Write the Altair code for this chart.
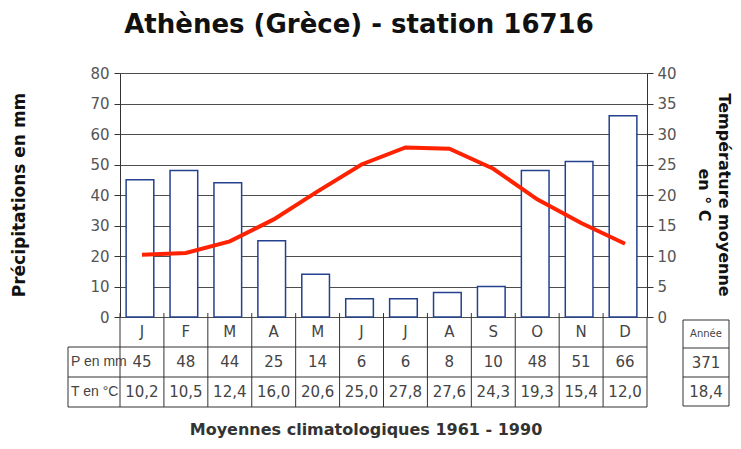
import altair as alt
import pandas as pd

# ---- data ----
mois = ["Janvier", "Février", "Mars", "Avril", "Mai", "Juin",
        "Juillet", "Août", "Septembre", "Octobre", "Novembre", "Décembre"]
initiales = ["J", "F", "M", "A", "M", "J", "J", "A", "S", "O", "N", "D"]
precip = [45, 48, 44, 25, 14, 6, 6, 8, 10, 48, 51, 66]
temp = [10.2, 10.5, 12.4, 16.0, 20.6, 25.0, 27.8, 27.6, 24.3, 19.3, 15.4, 12.0]
annee_p = 371
annee_t = 18.4
p_ticks = list(range(0, 81, 10))
t_ticks = list(range(0, 41, 5))

titre = "Athènes (Grèce) - station 16716"
titre_g = "Précipitations en mm"
titre_d1 = "Température moyenne"
titre_d2 = "en ° C"
pied = "Moyennes climatologiques 1961 - 1990"
ligne_p = "P en mm"
ligne_t = "T en °C"
annee_lbl = "Année"

def fr(v):
    return f"{v:.1f}".replace(".", ",")

df = pd.DataFrame({
    "mois": mois, "init": initiales, "precip": precip, "temp": temp,
    "p_txt": [str(p) for p in precip],
    "t_txt": [fr(t) for t in temp],
})
one = pd.DataFrame({"k": [0]})

W, H = 527, 244
FONT = "DejaVu Sans"
LINE = "#333333"
TXT = "#444444"

xscale = alt.Scale(paddingInner=0, paddingOuter=0)
xenc = alt.X("mois:N", sort=mois, scale=xscale, axis=None)

bars = alt.Chart(df).mark_bar(
    width=alt.RelativeBandSize(0.63), xOffset=-2,
    fill="white", stroke="#24418f", strokeWidth=1.5
).encode(
    x=xenc,
    y=alt.Y("precip:Q", scale=alt.Scale(domain=[0, 80], nice=False),
            axis=alt.Axis(values=p_ticks, orient="left", title=None, grid=True,
                          gridColor="#4d4d4d", gridWidth=1.2, domainColor=LINE,
                          tickColor=LINE, tickSize=6, labelFontSize=15,
                          labelColor="#555555", labelFont=FONT, labelPadding=5)),
)

line = alt.Chart(df).mark_line(color="#ff2200", strokeWidth=4).encode(
    x=xenc,
    y=alt.Y("temp:Q", scale=alt.Scale(domain=[0, 40], nice=False),
            axis=alt.Axis(values=t_ticks, orient="right", title=None, grid=False,
                          domainColor=LINE, tickColor=LINE, tickSize=6,
                          labelFontSize=15, labelColor="#555555", labelFont=FONT,
                          labelPadding=4)),
)

layers = [bars, line]

# table vertical lines at band boundaries
layers.append(alt.Chart(df).mark_rule(color=LINE, strokeWidth=1).encode(
    x=alt.X("mois:N", sort=mois, scale=xscale, axis=None, bandPosition=0),
    y=alt.value(H - 4), y2=alt.value(H + 90)))


def rule(x1, x2, y1, y2):
    return alt.Chart(one).mark_rule(color=LINE, strokeWidth=1).encode(
        x=alt.value(x1), x2=alt.value(x2), y=alt.value(y1), y2=alt.value(y2))


def label(txt, x, y, size=15, bold=False, color=TXT, angle=0, align="center", font=FONT):
    return alt.Chart(one).mark_text(
        font=font, fontSize=size, fontWeight="bold" if bold else "normal",
        color=color, angle=angle, align=align, baseline="middle"
    ).encode(x=alt.value(x), y=alt.value(y), text=alt.value(txt))


# table right edge and horizontal lines
LB = -52
layers.append(rule(W, W, H, H + 90))
for yy in (H + 30, H + 60, H + 90):
    layers.append(rule(LB, W, yy, yy))
layers.append(rule(LB, LB, H + 30, H + 90))

# table texts
for field, yy in (("init", H + 15), ("p_txt", H + 45), ("t_txt", H + 75)):
    layers.append(alt.Chart(df).mark_text(
        font=FONT, fontSize=15, color=TXT, baseline="middle"
    ).encode(x=xenc, y=alt.value(yy), text=f"{field}:N"))

layers.append(label(ligne_p, LB + 3, H + 45, size=14, align="left", font="Liberation Sans"))
layers.append(label(ligne_t, LB + 3, H + 75, size=14, align="left", font="Liberation Sans"))

# year box
bx1, bx2 = 563, 609
for yy in (H + 3, H + 31, H + 60, H + 89):
    layers.append(rule(bx1, bx2, yy, yy))
layers.append(rule(bx1, bx1, H + 3, H + 89))
layers.append(rule(bx2, bx2, H + 3, H + 89))
layers.append(label(annee_lbl, (bx1 + bx2) / 2, H + 17, size=10))
layers.append(label(str(annee_p), (bx1 + bx2) / 2, H + 45.5))
layers.append(label(fr(annee_t), (bx1 + bx2) / 2, H + 74.5))

# titles
layers.append(label(titre, 239, -48, size=26, bold=True, color="#111111"))
layers.append(label(titre_g, -100, H / 2, size=17, bold=True, color="#111111", angle=270))
layers.append(label(titre_d1, 604, H / 2, size=16, bold=True, color="#111111", angle=90))
layers.append(label(titre_d2, 584, H / 2, size=16, bold=True, color="#111111", angle=90))
layers.append(label(pied, 246, 357, size=16, bold=True, color="#333333"))

chart = alt.layer(*layers).resolve_scale(y="independent").properties(
    width=W, height=H,
    padding={"left": 112, "top": 65, "right": 86, "bottom": 124},
    autosize=alt.AutoSizeParams(type="none"),
).configure_view(stroke=None).configure(background="white")

chart.save("out.html", embed_options={"renderer": "svg", "actions": False})
